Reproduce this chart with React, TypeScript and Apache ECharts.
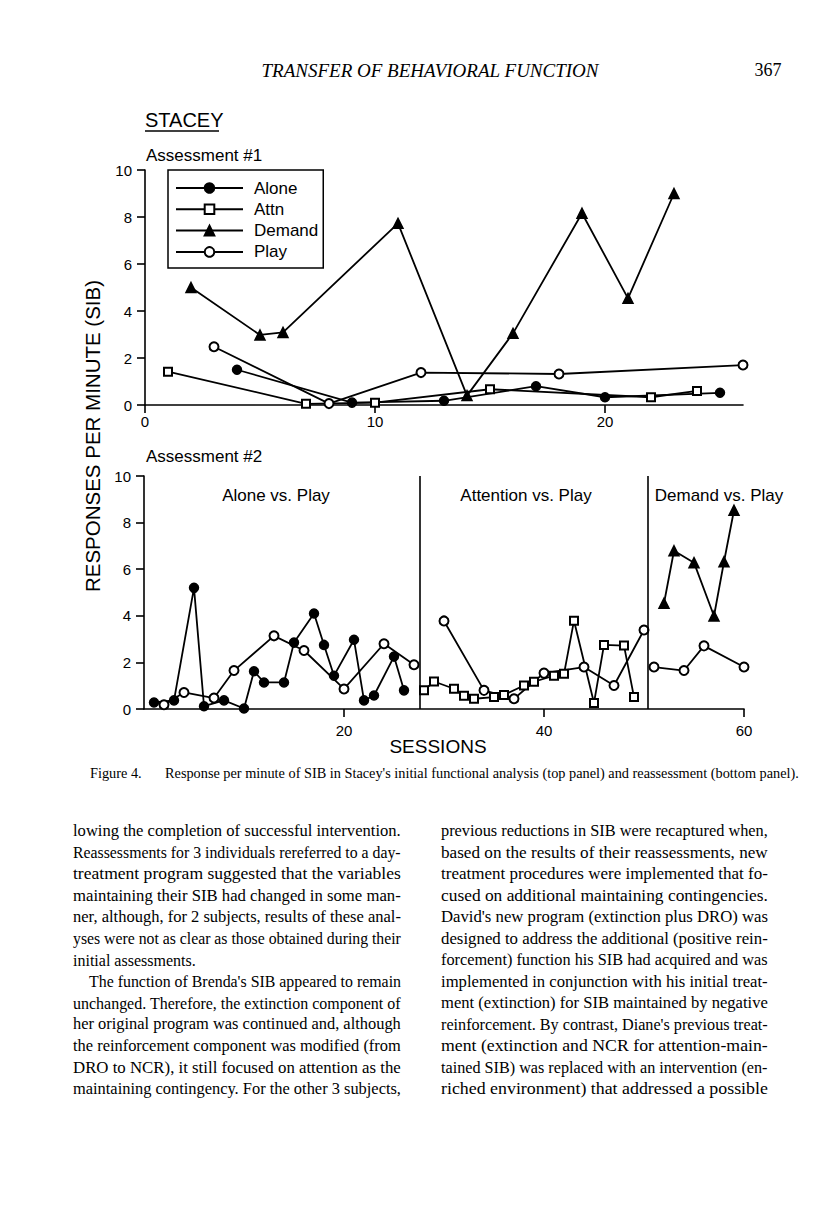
import React, { useEffect, useRef } from 'react';
import * as echarts from 'echarts';

// ---------- Assessment #1 (sessions, responses per minute) ----------
const a1Alone = [[4, 1.5], [9, 0.1], [13, 0.18], [17, 0.8], [20, 0.33], [25, 0.52]];
const a1Attn = [[1, 1.42], [7, 0.05], [10, 0.1], [15, 0.67], [22, 0.33], [24, 0.6]];
const a1Demand = [[2, 5.0], [5, 2.98], [6, 3.09], [11, 7.73], [14, 0.4], [16, 3.05], [19, 8.16], [21, 4.54], [23, 9.0]];
const a1Play = [[3, 2.48], [8, 0.06], [12, 1.38], [18, 1.32], [26, 1.7]];

// ---------- Assessment #2 ----------
const a2Alone = [[1, 0.28], [3, 0.37], [5, 5.2], [6, 0.12], [8, 0.37], [10, 0.02], [11, 1.62], [12, 1.14], [14, 1.14], [15, 2.85], [17, 4.1], [18, 2.75], [19, 1.43], [21, 2.97], [22, 0.37], [23, 0.58], [25, 2.25], [26, 0.8]];
const a2PlayAlone = [[2, 0.18], [4, 0.71], [7, 0.47], [9, 1.65], [13, 3.14], [16, 2.51], [20, 0.86], [24, 2.8], [27, 1.9]];
const a2Attn = [[28, 0.8], [29, 1.18], [31, 0.87], [32, 0.57], [33, 0.44], [35, 0.51], [36, 0.6], [38, 1.01], [39, 1.17], [41, 1.43], [42, 1.51], [43, 3.79], [45, 0.26], [46, 2.75], [48, 2.72], [49, 0.51]];
const a2PlayAttn = [[30, 3.78], [34, 0.8], [37, 0.44], [40, 1.54], [44, 1.8], [47, 1.01], [50, 3.39]];
const a2Demand = [[52, 4.54], [53, 6.79], [55, 6.28], [57, 3.99], [58, 6.32], [59, 8.53]];
const a2PlayDemand = [[51, 1.8], [54, 1.65], [56, 2.71], [60, 1.8]];

const phaseChanges = [27.6, 50.4];
const phaseLabels = ['Alone vs. Play', 'Attention vs. Play', 'Demand vs. Play'];
const legendNames = ['Alone', 'Attn', 'Demand', 'Play'];
const topXLabels = [0, 10, 20];
const bottomXLabels = [20, 40, 60];

const leftColumn = [
  'lowing the completion of successful intervention.',
  'Reassessments for 3 individuals rereferred to a day-',
  'treatment program suggested that the variables',
  'maintaining their SIB had changed in some man-',
  'ner, although, for 2 subjects, results of these anal-',
  'yses were not as clear as those obtained during their',
  'initial assessments.',
  'The function of Brenda\'s SIB appeared to remain',
  'unchanged. Therefore, the extinction component of',
  'her original program was continued and, although',
  'the reinforcement component was modified (from',
  'DRO to NCR), it still focused on attention as the',
  'maintaining contingency. For the other 3 subjects,',
];
const rightColumn = [
  'previous reductions in SIB were recaptured when,',
  'based on the results of their reassessments, new',
  'treatment procedures were implemented that fo-',
  'cused on additional maintaining contingencies.',
  'David\'s new program (extinction plus DRO) was',
  'designed to address the additional (positive rein-',
  'forcement) function his SIB had acquired and was',
  'implemented in conjunction with his initial treat-',
  'ment (extinction) for SIB maintained by negative',
  'reinforcement. By contrast, Diane\'s previous treat-',
  'ment (extinction and NCR for attention-main-',
  'tained SIB) was replaced with an intervention (en-',
  'riched environment) that addressed a possible',
];

const SANS = '"Liberation Sans", Arial, sans-serif';
const SERIF = '"Liberation Serif", "Times New Roman", serif';
const BLACK = '#000';

function series(name: string, data: number[][], symbol: string, size: number, gi: number, extra: any = {}) {
  return {
    name,
    type: 'line',
    data,
    xAxisIndex: gi,
    yAxisIndex: gi,
    symbol,
    symbolSize: size,
    showAllSymbol: true,
    lineStyle: { color: BLACK, width: 1.8 },
    itemStyle: { color: BLACK, borderColor: BLACK, borderWidth: 1.5 },
    emphasis: { disabled: true },
    ...extra,
  };
}

const axisCommon = {
  axisLine: { show: true, lineStyle: { color: BLACK, width: 1.6 } },
  axisTick: { show: true, inside: false, length: 8, lineStyle: { color: BLACK, width: 1.6 } },
  splitLine: { show: false },
  axisLabel: { color: BLACK, fontFamily: SANS, fontSize: 15 },
};

let measureCtx: CanvasRenderingContext2D | null = null;
function measure(text: string, font: string) {
  if (!measureCtx) measureCtx = document.createElement('canvas').getContext('2d');
  if (!measureCtx) return 0;
  measureCtx.font = font;
  return measureCtx.measureText(text).width;
}

export default function App() {
  const ref = useRef<HTMLDivElement>(null);
  useEffect(() => {
    if (!ref.current) return;
    const chart = echarts.init(ref.current, null, { renderer: 'svg' });

    const texts: any[] = [];
    const txt = (text: string, x: number, y: number, font: string, align = 'left', extra: any = {}) =>
      texts.push({
        type: 'text',
        x,
        y,
        silent: true,
        ...extra,
        style: { text, font, fill: BLACK, textAlign: align, textVerticalAlign: 'middle' },
      });
    // a justified line: stretched to the column's width
    const justified = (text: string, x: number, right: number, y: number, font: string) => {
      const w = measure(text, font);
      const s = w > 0 ? Math.min(1.15, (right - x) / w) : 1;
      txt(text, x, y, font, 'left', { scaleX: s });
    };

    txt('TRANSFER OF BEHAVIORAL FUNCTION', 430, 70, `italic 19px ${SERIF}`, 'center');
    txt('367', 768, 70, `18px ${SERIF}`, 'center');
    txt('STACEY', 145, 120, `20px ${SANS}`);
    texts.push({ type: 'line', silent: true, shape: { x1: 145, y1: 131, x2: 219, y2: 131 }, style: { stroke: BLACK, lineWidth: 1.5 } });
    txt('Assessment #1', 146, 155, `17px ${SANS}`);
    txt('Assessment #2', 146, 456, `17px ${SANS}`);
    txt('RESPONSES PER MINUTE (SIB)', 92, 436, `20.5px ${SANS}`, 'center', { rotation: Math.PI / 2 });
    txt('SESSIONS', 438, 746, `19px ${SANS}`, 'center');
    const phaseX = [276, 526, 719];
    phaseLabels.forEach((p, i) => txt(p, phaseX[i], 495, `17px ${SANS}`, 'center'));
    txt('Figure 4.', 90, 773, `14.3px ${SERIF}`);
    txt(
      'Response per minute of SIB in Stacey\'s initial functional analysis (top panel) and reassessment (bottom panel).',
      165,
      773,
      `14.3px ${SERIF}`
    );
    const bodyFont = `16px ${SERIF}`;
    leftColumn.forEach((l, i) => {
      const y = 831 + i * 21.5;
      if (i === 6) txt(l, 73, y, bodyFont);
      else justified(l, i === 7 ? 89 : 73, 401, y, bodyFont);
    });
    rightColumn.forEach((l, i) => justified(l, 441, 768, 831 + i * 21.5, bodyFont));

    const option: any = {
      animation: false,
      backgroundColor: '#fff',
      grid: [
        { left: 145, top: 170, width: 598, height: 235 },
        { left: 144, top: 476, width: 600, height: 233 },
      ],
      xAxis: [
        {
          ...axisCommon,
          type: 'value',
          gridIndex: 0,
          min: 0,
          max: 26,
          interval: 10,
          axisTick: { ...axisCommon.axisTick, customValues: topXLabels },
          axisLabel: { ...axisCommon.axisLabel, margin: 9, customValues: topXLabels },
        },
        {
          ...axisCommon,
          type: 'value',
          gridIndex: 1,
          min: 0,
          max: 60,
          interval: 20,
          axisTick: { ...axisCommon.axisTick, customValues: bottomXLabels },
          axisLabel: { ...axisCommon.axisLabel, margin: 14, customValues: bottomXLabels },
        },
      ],
      yAxis: [
        { ...axisCommon, type: 'value', gridIndex: 0, min: 0, max: 10, interval: 2, axisLabel: { ...axisCommon.axisLabel, margin: 13 } },
        { ...axisCommon, type: 'value', gridIndex: 1, min: 0, max: 10, interval: 2, axisLabel: { ...axisCommon.axisLabel, margin: 13 } },
      ],
      legend: {
        data: legendNames,
        orient: 'vertical',
        left: 168,
        top: 170,
        itemWidth: 67,
        itemHeight: 12,
        itemGap: 4.3,
        padding: [9.5, 5, 7.5, 7],
        borderColor: BLACK,
        borderWidth: 1.5,
        backgroundColor: '#fff',
        selectedMode: false,
        textStyle: { color: BLACK, fontFamily: SANS, fontSize: 17, lineHeight: 17, padding: [0, 0, 0, 6] },
        z: 10,
      },
      series: [
        series('Alone', a1Alone, 'circle', 9, 0),
        series('Attn', a1Attn, 'emptyRect', 8, 0),
        series('Demand', a1Demand, 'triangle', 10, 0),
        series('Play', a1Play, 'emptyCircle', 9, 0),
        series('Alone (reassessment)', a2Alone, 'circle', 9, 1),
        series('Play (alone phase)', a2PlayAlone, 'emptyCircle', 9, 1),
        series('Attn (reassessment)', a2Attn, 'emptyRect', 8, 1, {
          markLine: {
            silent: true,
            symbol: ['none', 'none'],
            label: { show: false },
            lineStyle: { color: BLACK, width: 1.6, type: 'solid' },
            data: phaseChanges.map((x) => ({ xAxis: x })),
          },
        }),
        series('Play (attention phase)', a2PlayAttn, 'emptyCircle', 9, 1),
        series('Demand (reassessment)', a2Demand, 'triangle', 10, 1),
        series('Play (demand phase)', a2PlayDemand, 'emptyCircle', 9, 1),
      ],
      graphic: texts,
    };
    chart.setOption(option);
    return () => chart.dispose();
  }, []);

  return (
    <div
      ref={ref}
      style={{ position: 'absolute', left: 0, top: 0, width: 816, height: 1205, background: '#fff' }}
    />
  );
}
